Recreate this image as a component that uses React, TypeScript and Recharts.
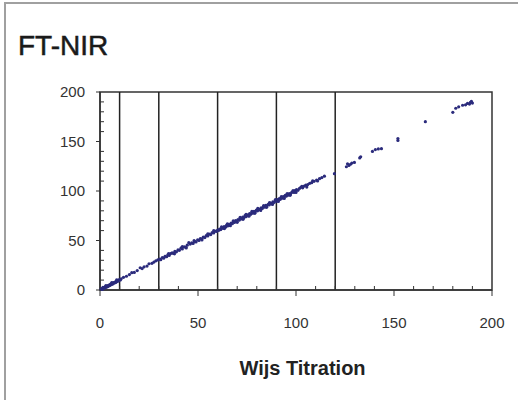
import {
	ReferenceArea,
	ReferenceLine,
	Scatter,
	ScatterChart,
	XAxis,
	YAxis,
} from 'recharts'

// Wijs titration value (x) and FT-NIR prediction (y) for each sample
const wijs = [
	0.5, 1, 1.2, 1.8, 2, 2.5, 2.8, 3, 3.3, 3.7, 4, 4.3, 4.6, 5, 5.2, 5.6, 6, 6.3,
	6.7, 7, 7.4, 7.8, 8.1, 8.5, 8.9, 9.3, 9.6, 10, 10.4, 10.8,
	12, 13.5, 15, 16.2, 17.5, 19, 20.5, 21.5, 22.5, 24, 25, 26.5, 27.5, 28.5, 29.5,
	30.5, 31, 31.8, 32.5, 33.2, 34, 34.6, 35.3, 36, 36.8, 37.5, 38.2, 39, 39.8,
	40.5, 41.3, 42, 43, 43.8, 44.5, 45.3, 46, 46.8, 47.5, 48.3, 49, 49.8, 50.5,
	51.2, 52, 52.7, 53.5, 54.2, 55, 55.7, 56.5, 57.2, 58, 58.7, 59.5, 60,
	60.5, 61, 61.6, 62.2, 62.8, 63.3, 64, 64.5, 65.1, 65.7, 66.3, 66.9, 67.5, 68,
	68.6, 69.2, 69.8, 70.4, 71, 71.6, 72.2, 72.8, 73.4, 74, 74.5, 75.1, 75.7, 76.3,
	76.9, 77.5, 78, 78.6, 79.2, 79.8, 80.4, 81, 81.6, 82.2, 82.8, 83.4, 84, 84.6,
	85.2, 85.8, 86.4, 87, 87.6, 88.2, 88.8, 89.4, 90,
	90.5, 91, 91.5, 92, 92.5, 93, 93.5, 94, 94.5, 95, 95.5, 96, 96.6, 97.2, 97.8,
	98.4, 99, 99.7, 100.3, 101, 101.8, 102.5, 103.4, 104.2, 105, 106, 107, 108,
	109.2, 110.5, 112, 113.2, 114.5, 119.6,
	125.7, 126.3, 127, 127.8, 128.5, 129.8, 132.5, 133, 139, 140.5, 142, 143.6,
	152, 152, 166, 180, 181.5, 183, 185, 186.5, 187.5, 188.5, 189, 190, 189.5,
	35, 38, 42, 44, 48, 52, 55, 58, 62, 63.5, 65, 66.5, 68, 70, 71.5, 73, 74.5, 76,
	77.5, 79, 80.5, 82, 83.5, 85, 86.5, 88, 89.5, 91, 92.5, 94, 95.5, 97, 98.5, 100,
	103, 105.5, 108.5, 111, 3, 6, 8.5, 1.5,
]

const ftnir = [
	0.8, 1.5, 0.6, 2.2, 1.6, 3, 2.4, 3.6, 2.9, 4.1, 3.5, 4.8, 4.2, 5.4, 4.7, 6.1,
	5.6, 6.9, 6.2, 7.5, 7.1, 8.3, 7.7, 9, 8.6, 9.9, 9.4, 10.5, 10.1, 11.3,
	12.8, 13.9, 15.6, 17.5, 17.8, 19.6, 22.5, 21.6, 23.4, 24.2, 26.5, 26.9, 28.2,
	29.5, 30.4,
	31.2, 30.6, 32.8, 32.1, 34, 33.6, 35.5, 34.9, 36.8, 37.5, 36.9, 39, 38.6, 40.5,
	40.1, 42.2, 41.5, 43.6, 43.2, 45.3, 47.8, 46.4, 47.6, 47, 49.1, 48.5, 50.6,
	50.1, 52, 51.6, 53.5, 53, 55, 54.6, 56.5, 56, 58, 57.6, 59.4, 59.1, 60.6,
	60.2, 61.5, 61, 62.8, 62.3, 64, 63.5, 65.2, 64.7, 66.4, 65.8, 67.7, 67, 68.8,
	68.2, 70.1, 69.3, 71.2, 70.5, 72.5, 71.8, 73.6, 73, 75.2, 74.1, 76, 75.2, 77.1,
	76.4, 78.3, 77.6, 79.5, 78.8, 80.6, 80, 81.8, 81.2, 83, 82.4, 84.2, 83.6, 85.4,
	84.8, 86.6, 86, 87.8, 87.2, 89, 88.4, 90.2, 89.6,
	91.3, 90.6, 92.4, 91.6, 93.5, 92.7, 94.4, 93.9, 95.5, 94.7, 96.4, 95.8, 97.5,
	96.9, 98.6, 99.4, 98.5, 100.6, 101.5, 100.7, 102.6, 103.8, 103.2, 105, 105.9,
	106.5, 107.8, 108.4, 109.8, 111, 112.5, 113.6, 115, 117.5,
	124.5, 127.5, 125.8, 127, 128.3, 128.9, 133.4, 134.6, 140, 141.8, 142.5, 142.8,
	151, 153, 170, 179.5, 183.6, 185, 186.6, 187, 188.5, 187.8, 189.6, 188.8, 190.5,
	36.8, 36.5, 43.9, 42.5, 49.8, 50.5, 56.8, 59.9, 63.7, 62, 66.8, 65, 69.9, 68.4,
	73.4, 71.4, 76.3, 74.5, 79.4, 77.4, 82.4, 80.4, 85.3, 83.5, 88.3, 86.4, 91.4,
	89.5, 94.3, 92.4, 97.5, 95.6, 100.3, 98.6, 104.8, 104, 110.3, 110.2, 4.5, 7.5,
	10.2, 2.8,
]

const xTicks = [0, 10, 20, 30, 40, 50, 60, 70, 80, 90, 100, 110, 120, 130, 140, 150, 160, 170, 180, 190, 200]
const yTicks = [0, 10, 20, 30, 40, 50, 60, 70, 80, 90, 100, 110, 120, 130, 140, 150, 160, 170, 180, 190, 200]
const markerLines = [10, 30, 60, 90, 120]

const font = '"Liberation Sans", Arial, Helvetica, sans-serif'
const ink = '#333'

const XTick = ({ x, y, payload }: any) => {
	const v = payload.value
	const major = v % 50 === 0
	return (
		<g>
			<line x1={x} x2={x} y1={y} y2={major ? y + 6 : y - 4} stroke={ink} strokeWidth={1} />
			{major && (
				<text x={x} y={y + 38} textAnchor="middle" fontSize={15} fill={ink} fontFamily={font}>
					{v}
				</text>
			)}
		</g>
	)
}

const YTick = ({ x, y, payload }: any) => {
	const v = payload.value
	const major = v % 50 === 0
	return (
		<g>
			<line x1={major ? x - 4 : x} x2={major ? x : x + 4} y1={y} y2={y} stroke={ink} strokeWidth={1} />
			{major && (
				<text x={x - 15} y={y + 5} textAnchor="end" fontSize={15} fill={ink} fontFamily={font}>
					{v}
				</text>
			)}
		</g>
	)
}

const Dot = ({ cx, cy }: any) => <circle cx={cx} cy={cy} r={1.6} fill="#2b2b7c" />

export default function App() {
	const data = wijs.map((x, i) => ({ x, y: ftnir[i] }))

	return (
		<div style={{ position: 'absolute', left: 0, top: 0, width: 518, height: 400, background: '#fff', fontFamily: font }}>
			<div
				style={{
					position: 'absolute',
					left: 4,
					top: 2,
					width: 514,
					height: 398,
					borderLeft: '2px solid #a0a0a0',
					borderTop: '2px solid #a0a0a0',
				}}
			/>
			<div
				style={{
					position: 'absolute',
					left: 18,
					top: 32,
					fontSize: 28,
					lineHeight: '28px',
					color: '#1a1a1a',
					WebkitTextStroke: '0.5px #1a1a1a',
				}}
			>
				FT-NIR
			</div>
			<ScatterChart width={518} height={400} margin={{ top: 92, right: 26, bottom: 70, left: 0 }}>
				<XAxis
					type="number"
					dataKey="x"
					domain={[0, 200]}
					ticks={xTicks}
					interval={0}
					tickSize={0}
					tickMargin={0}
					tickLine={false}
					tick={(p: any) => <XTick {...p} />}
					axisLine={{ stroke: ink, strokeWidth: 1.5 }}
					height={40}
				/>
				<YAxis
					type="number"
					dataKey="y"
					domain={[0, 200]}
					ticks={yTicks}
					interval={0}
					tickSize={0}
					tickMargin={0}
					tickLine={false}
					tick={(p: any) => <YTick {...p} />}
					axisLine={{ stroke: ink, strokeWidth: 1.5 }}
					width={100}
				/>
				<ReferenceArea x1={0} x2={200} y1={0} y2={200} fill="none" stroke={ink} strokeWidth={1.5} />
				{markerLines.map((v) => (
					<ReferenceLine key={v} x={v} stroke="#222" strokeWidth={1.5} />
				))}
				<Scatter data={data} shape={(p: any) => <Dot {...p} />} isAnimationActive={false} />
			</ScatterChart>
			<div
				style={{
					position: 'absolute',
					left: 0,
					width: 605,
					top: 358,
					textAlign: 'center',
					fontSize: 20,
					lineHeight: '20px',
					fontWeight: 'bold',
					color: '#222',
				}}
			>
				Wijs Titration
			</div>
		</div>
	)
}
